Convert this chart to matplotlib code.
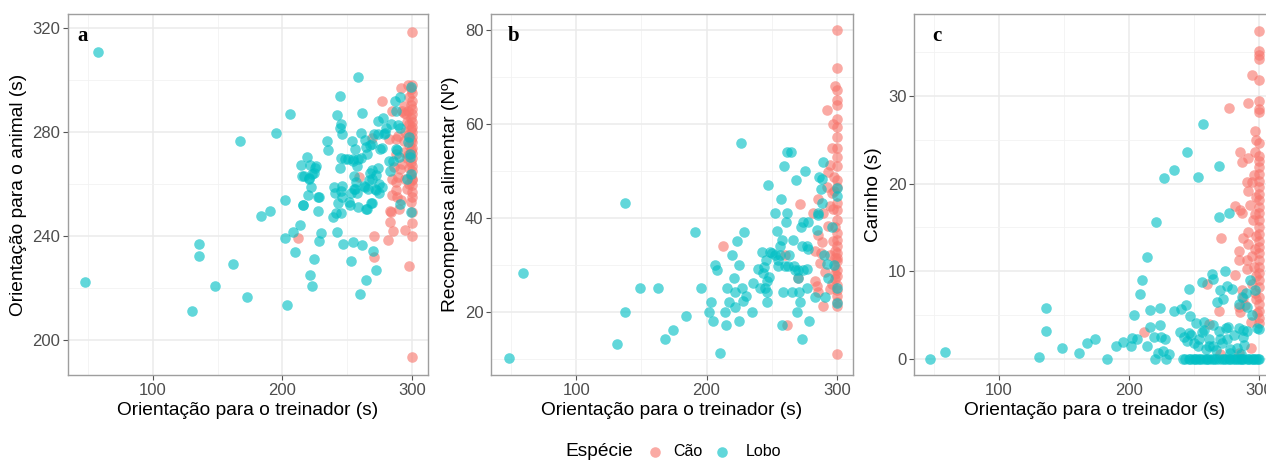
import matplotlib

matplotlib.use("Agg")
import matplotlib.pyplot as plt
from matplotlib.lines import Line2D
from matplotlib.ticker import MultipleLocator

plt.rcParams["font.family"] = ["Liberation Sans", "DejaVu Sans"]

# (orientação para o treinador, resposta) por espécie e painel
lobo_a = [
    (47.5, 222.5), (58, 310.6), (130, 211.4), (136, 237), (136, 232.3), (148.4, 220.8), (162, 229.5),
    (167.3, 276.7), (173, 216.6), (183.5, 247.9), (190.4, 249.5), (195, 279.8), (202.2, 254), (201.7, 239.4),
    (203.7, 213.5), (205.8, 286.8), (208.3, 241.5), (209.9, 233.9), (213.7, 244.2), (214.2, 267.5),
    (216, 251.8), (215.5, 263), (219, 270.3), (219.8, 256), (221, 267.3), (220.6, 262.5), (221, 225),
    (222.9, 220.9), (224.2, 231.3), (224.7, 264.1), (225.5, 266.1), (226.2, 266.8), (228, 255.1),
    (227.8, 249.8), (228.3, 238.1), (229.8, 241.4), (234.7, 276.7), (235, 273.1), (239.8, 259),
    (239.3, 247.5), (241.6, 248.8), (242.1, 241.7), (242.4, 286.5), (244.7, 294), (244.2, 281.7),
    (245, 283.2), (246, 279.2), (245.5, 270), (244.2, 266.1), (246.2, 259.2), (246, 255.1), (245.2, 257.4),
    (245.7, 249), (247.2, 236.9), (251.9, 251.9), (252.9, 230.4), (253.9, 276.4), (254.7, 237.6),
    (254.4, 269), (251.1, 269.6), (256.2, 258.3), (257.2, 260.8), (257.5, 267), (258.5, 301.2), (258, 256.4),
    (260.3, 217.7), (261.1, 270.1), (260.8, 279.7), (261.6, 287.3), (261.6, 236.5), (263.9, 276.9),
    (263.9, 258.9), (264.9, 223), (265.4, 250.5), (265.4, 271.6), (267.2, 261.4), (268, 264.2),
    (268, 275.1), (269, 252.7), (270, 234.2), (271.1, 279.2), (271.8, 258.3), (272.6, 227.2),
    (273.6, 284.3), (274.1, 266.3), (274.9, 256.4), (275.7, 273.6), (276.7, 258.9), (277.5, 285.5),
    (278.2, 279.2), (279.3, 279.8), (284.1, 283.2), (285.4, 269), (283.4, 265.2), (286.7, 291.9),
    (287.5, 288.1), (288, 273.6), (289.3, 282.7), (290, 270.3), (290.5, 252.2), (291, 293.4), (291, 281.5),
    (299.2, 297.2), (299.5, 264), (299.5, 249.3), (298.7, 270.3), (297.9, 278),
    (248.7, 269.7), (254.8, 269.7), (258.1, 269.7), (255.6, 263.2), (223.1, 264), (220.5, 262.1),
    (216.4, 263), (222.3, 258.9), (227.4, 255.1), (215.9, 252), (288.8, 272.9), (282.4, 269),
    (269.6, 265.3), (272.2, 263.4), (269.6, 262.1), (274.8, 260.2), (272.2, 257.7), (265.8, 258.3),
    (263.2, 259.2), (255.6, 258.3), (253, 256.4), (258.1, 251.3), (264.5, 250.3), (268.4, 252.6),
    (241, 256.4), (243.3, 252.6), (251.7, 253.2), (256.3, 273.5), (264.5, 274.4), (269.6, 275.4),
    (277.3, 273.9), (274.2, 279.4), (279.9, 281.5), (298.5, 271.4), (296, 262), (297, 276),
]
cao_a = [
    (300, 318.5), (300, 193.5), (298, 228.6), (300, 240.2), (300, 245.2), (300, 249.3), (300, 255.1),
    (300, 259.5), (300, 261.4), (294.4, 242.2), (285.7, 241.8), (281.3, 238.4), (270.8, 240.2),
    (271.1, 232), (283.4, 245.3), (283.4, 249.7), (290, 250.3), (288.5, 255.1), (288, 257.6),
    (287.7, 260.8), (289.2, 262.7), (291, 265.9), (292.8, 267.8), (293.6, 272.2), (287.7, 277.3),
    (289.2, 278.6), (294.1, 276.7), (291.5, 296.7), (276.9, 291.9), (269.3, 277.7), (259.5, 262.7),
    (212.1, 239.3), (293.6, 287.4), (295.4, 286.8),
    (300, 298), (299, 296.5), (300, 295), (298, 293.5), (300, 292), (299, 290.5), (300, 289), (297, 288),
    (300, 287), (299, 285.5), (300, 284), (298, 283), (300, 282), (299, 281), (300, 280), (297, 279),
    (300, 278), (299, 277), (300, 276), (298, 275), (300, 274), (299, 273), (300, 272), (297, 271),
    (300, 270), (299, 268.5), (300, 267), (298, 266), (300, 265), (299, 263), (300, 262), (298, 260),
    (300, 257), (299, 253), (296, 258), (295, 262), (296, 270), (295, 280), (296, 284), (294, 290),
    (297, 298), (285, 288.1), (292.6, 288.1), (282.4, 277.3), (287.6, 271.6), (286.3, 266.5),
    (285, 262.1), (285, 255.8), (291.4, 253.9), (283.7, 249.4),
]

lobo_b = [
    (48.1, 10.1), (59.1, 28.2), (131.2, 13.1), (137.1, 43.1), (137.1, 20), (149.1, 25.1), (162.7, 25.1),
    (168.3, 14.1), (174.2, 16.1), (184.1, 19.1), (190.8, 37.1), (195.9, 25.1), (202, 20), (203.6, 22.1),
    (204.9, 18.1), (206.6, 29.9), (208.4, 29), (210.7, 11.2), (214.3, 20), (214.6, 17.1), (216.1, 25.1),
    (216.9, 22.1), (219.9, 32.1), (221, 27.2), (221.5, 21.1), (222, 24.1), (223.5, 35), (224.6, 18.1),
    (225.1, 30), (226.3, 55.9), (227.1, 25.1), (228.4, 22.3), (228.9, 37.1), (230.7, 23.3), (235.3, 20),
    (235.5, 26.2), (239.9, 29.2), (241.4, 25), (242.5, 32.8), (243.5, 28.3), (245, 25), (245.5, 31.1),
    (246.3, 26.5), (247.1, 47), (246.5, 22.1), (246.5, 24.1), (248.8, 32.7), (252.7, 41.1), (254.5, 37.2),
    (255.2, 31.1), (257.3, 44), (256.5, 34), (257.8, 35.4), (259, 24.1), (259.8, 51), (258.3, 17.1),
    (261.6, 54), (261.1, 39.1), (261.6, 41.1), (262.4, 29.7), (263.4, 32), (264.7, 54), (265.5, 24.1),
    (266.2, 35.4), (267.5, 29.8), (268.8, 48.1), (269.8, 20), (270.1, 27.2), (271.4, 24.1), (272.4, 38),
    (273.1, 14.1), (273.7, 34), (272, 22.1), (274.4, 39.1), (275.7, 50), (277, 34), (277.5, 29.2),
    (278.3, 39.1), (278.8, 18.1), (277.5, 25), (278.3, 33.3), (283.4, 23.1), (284.7, 37.5), (286, 40.7),
    (286.7, 48.8), (288, 46.1), (288.5, 48.3), (289.8, 52), (289, 43.2), (291, 23.2), (292.3, 30.1),
    (293.6, 27.1), (300, 46.4), (300, 21.9), (300, 25.1), (300, 44.6),
    (255, 29.7), (260.4, 29.7), (268, 29), (270.6, 29), (274.4, 29), (256.5, 32.2), (252.7, 32.2),
    (250.1, 32.6), (244, 29.5), (248, 27.5), (286, 41), (290, 32), (296, 38), (298, 30),
]
cao_b = [
    (300, 80), (300, 72), (298.7, 68.2), (300, 67.3), (300, 65.1), (300, 64.1), (292.6, 63.1), (297.4, 60),
    (300, 61), (300, 59.5), (300, 57.2), (300, 55), (296.7, 55), (300, 53.1), (300, 51), (294.9, 51.2),
    (293.6, 49.9), (300, 48.1), (292.3, 46.7), (298.2, 45.7), (286, 44), (300, 43.2), (294.9, 42.5),
    (300, 41.8), (289.8, 41.1), (282.1, 41.1), (271.9, 43), (300, 39.6), (293.6, 38.2), (300, 36.8),
    (286, 36.4), (300, 35.4), (288.5, 34.8), (300, 34), (212.8, 34.1), (300, 32.6), (283.4, 32.9),
    (294.9, 32.2), (300, 30.8), (287.2, 30.4), (300, 29), (291, 28.4), (300, 27.6), (270.6, 27.2),
    (283.4, 26.5), (300, 25.8), (294.9, 24.8), (286, 24.1), (300, 23.4), (300, 21.2), (289.8, 21.2),
    (260.4, 32.1), (261.6, 17.1), (300, 11), (296.7, 45.3), (298.2, 48.8), (300, 46.7), (298.7, 28),
    (300, 24.7), (298.7, 31.5), (284.7, 25.5), (287.7, 32.5), (299, 33), (299, 38), (297, 42), (299, 27),
    (297, 35), (300, 31.5), (299, 29.5), (296, 26), (300, 22),
]

lobo_c = [
    (46.7, 0), (58.2, 0.8), (130.5, 0.2), (136.2, 5.8), (136.4, 3.2), (148.2, 1.2), (161.8, 0.6),
    (167.7, 1.8), (173.6, 2.2), (183.1, 0), (190, 1.4), (195.4, 1.9), (201.8, 1.4), (202.3, 2.4),
    (204.1, 5), (206.2, 2.3), (208.2, 7.4), (210, 9), (213.6, 1.4), (213.8, 11.6), (216.4, 5.6),
    (216.4, 3.6), (219, 2.5), (220.8, 15.6), (220, 0), (222.1, 0.7), (223.6, 5.8), (224.1, 3.9),
    (224.9, 2.5), (226.2, 0.9), (227.4, 20.6), (227.9, 2.3), (228.7, 0), (230.5, 0.5), (234.4, 5.4),
    (234.9, 21.6), (239, 3.1), (240, 5.7), (241.5, 0), (242.8, 2.5), (244.1, 6.1), (244.6, 23.6),
    (245.9, 0), (245.9, 8), (246.7, 4.9), (245.9, 2.9), (244.6, 2), (250.8, 0), (251.3, 4.1),
    (253.1, 20.8), (253.6, 2.3), (253.1, 1.4), (255.1, 0), (256.9, 26.8), (256.4, 8.8), (257.7, 4.2),
    (258.2, 3.3), (259, 1.1), (260.3, 0), (261.5, 2.2), (264.1, 9.7), (264.9, 9.1), (265.1, 3.9),
    (265.1, 1.4), (265.9, 0), (268.2, 6.5), (269, 22), (269.5, 16.2), (270.3, 7.8), (270.3, 2.2),
    (271.5, 0), (272.8, 6.8), (274.1, 10), (274.9, 3.5), (275.4, 2.2), (275.9, 8.3), (276.7, 0),
    (277.4, 16.7), (277.9, 1.1), (279.2, 8), (281.8, 0), (284.4, 6.3), (286.4, 0), (287.7, 2.5),
    (288.2, 3.3), (288.7, 1.6), (290, 7.5), (290.8, 3.2), (291.5, 0), (293.3, 9), (294.6, 5),
    (295.4, 0), (298.5, 3.5), (299.7, 0), (297.2, 7.8),
    (243, 0), (247, 0), (249, 0), (252, 0), (254, 0), (257, 0), (259, 0), (262, 0), (264, 0), (267, 0),
    (269, 0), (273, 0), (275, 0), (278, 0), (280, 0), (283, 0), (285, 0), (287, 0), (289, 0), (292, 0),
    (294, 0), (296, 0), (298, 0), (300, 0), (262, 1.5), (267, 1), (272, 1.8), (278, 0.6), (283, 1.2),
    (286, 0.5), (250, 1.8), (248, 2.7), (256, 3.1), (269, 3.2), (281, 2.7), (285, 3.5), (276, 3.6),
    (286.9, 7.1), (290.8, 5.95), (300, 3.4),
]
cao_c = [
    (300, 37.5), (300, 35.2), (300, 34.7), (300, 34.3), (294.6, 32.4), (300, 31.8), (276.7, 28.6),
    (292, 29.2), (300, 29.4), (300, 28.5), (300, 28.2), (297.2, 26), (300, 24.7), (285.6, 23.6),
    (286.9, 22.5), (292, 22.9), (297.2, 23.6), (300, 23.2), (300, 22.6), (300, 21.9), (300, 21.1),
    (300, 20.3), (294.6, 20.2), (292, 19.2), (290.8, 20.2), (300, 19.6), (300, 18.8), (300, 18.1),
    (300, 17.3), (293.3, 17.6), (281.8, 17.4), (286.9, 16.6), (285.6, 17), (300, 16.6), (300, 15.8),
    (295.9, 15.8), (300, 15), (300, 14.3), (292, 14.5), (271, 13.8), (288.2, 13.8), (292, 13.1),
    (300, 13.5), (300, 12.8), (300, 12.1), (284.4, 12.3), (300, 11.3), (284.4, 11.3), (290.8, 11.3),
    (294.6, 11.7), (300, 10.5), (290.8, 10.2), (300, 9.8), (281.8, 9.6), (300, 9), (260, 8.5),
    (300, 8.2), (286.9, 7.8), (297.2, 7.5), (300, 7.1), (288.2, 6.9), (300, 6.3), (289.5, 6.1),
    (284.4, 5.9), (285.6, 5.3), (300, 5.5), (269.7, 5.5), (298.5, 5.2), (300, 4.6), (300, 4.1),
    (293.8, 4.2), (261.3, 4), (211.8, 3), (294.1, 1.2), (284.4, 0.7), (270.3, 0.5),
    (298, 18.5), (297, 16.5), (298, 14), (297, 12.5), (296, 10.5), (298, 9.5), (295, 8.5), (298, 6.8),
    (296, 21), (298, 25),
]

panels = [
    ("a", lobo_a, cao_a, "Orientação para o animal (s)", (186.7, 325.3), 40, 20, 0.026),
    ("b", lobo_b, cao_b, "Recompensa alimentar (Nº)", (6.5, 83.5), 20, 10, 0.047),
    ("c", lobo_c, cao_c, "Carinho (s)", (-1.87, 39.4), 10, 5, 0.05),
]

cor_cao = "#F8766D"
cor_lobo = "#00BFC4"
alpha = 0.62
tamanho = 58

W, H = 1266, 462
fig = plt.figure(figsize=(W / 100, H / 100), dpi=100)

# caixas dos painéis em pixels: (esquerda, direita); o painel c passa da borda da figura
caixas = [(68, 428), (491, 853), (914, 1275)]
topo, base = 14, 375

for (letra, lobo, cao, ylabel, ylim, maior, menor, lx), (x0, x1) in zip(panels, caixas):
    ax = fig.add_axes([x0 / W, 1 - base / H, (x1 - x0) / W, (base - topo) / H])
    ax.set_facecolor("white")

    ax.scatter([p[0] for p in cao], [p[1] for p in cao], s=tamanho, color=cor_cao, alpha=alpha,
               linewidths=0, zorder=3)
    ax.scatter([p[0] for p in lobo], [p[1] for p in lobo], s=tamanho, color=cor_lobo, alpha=alpha,
               linewidths=0, zorder=3)

    ax.set_xlim(34.5, 312.5)
    ax.set_ylim(*ylim)
    ax.xaxis.set_major_locator(MultipleLocator(100))
    ax.xaxis.set_minor_locator(MultipleLocator(50))
    ax.yaxis.set_major_locator(MultipleLocator(maior))
    ax.yaxis.set_minor_locator(MultipleLocator(menor))

    ax.grid(True, which="major", color="#EBEBEB", linewidth=1.1, zorder=0)
    ax.grid(True, which="minor", color="#F2F2F2", linewidth=0.6, zorder=0)
    ax.set_axisbelow(True)

    for spine in ax.spines.values():
        spine.set_color("#9E9E9E")
        spine.set_linewidth(1.0)

    ax.tick_params(which="major", length=3.5, width=0.8, color="#555555", labelsize=12,
                   labelcolor="#4D4D4D", pad=2)
    ax.tick_params(which="minor", length=0)

    ax.set_xlabel("Orientação para o treinador (s)", fontsize=13.8, labelpad=3)
    ax.set_ylabel(ylabel, fontsize=13.8, labelpad=4)

    ax.text(lx, 0.94, letra, transform=ax.transAxes, fontsize=15, fontweight="bold",
            family="Liberation Serif", va="center", ha="left")

# legenda da espécie
ly = 1 - 452 / H
fig.text(633 / W, ly, "Espécie", fontsize=13.8, ha="right", va="center")
for px, texto, cor, tx in [(655, "Cão", cor_cao, 673), (722, "Lobo", cor_lobo, 746)]:
    fig.add_artist(Line2D([px / W], [ly], marker="o", markersize=7.6, color=cor, alpha=alpha,
                          markeredgewidth=0, linestyle="none", transform=fig.transFigure))
    fig.text(tx / W, ly, texto, fontsize=11.5, ha="left", va="center")

fig.savefig("out.png", dpi=100, facecolor="white")
